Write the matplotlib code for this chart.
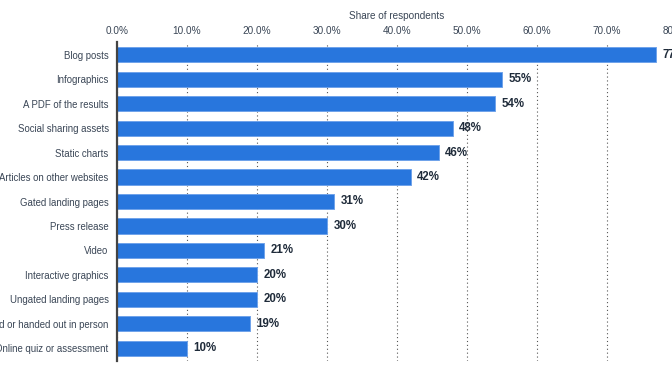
import matplotlib
matplotlib.use('Agg')
import matplotlib.pyplot as plt
import numpy as np

plt.rcParams['font.family'] = ['Liberation Sans', 'DejaVu Sans']

categories = ['Blog posts', 'Infographics', 'A PDF of the results', 'Social sharing assets',
              'Static charts', 'Articles on other websites', 'Gated landing pages',
              'Press release', 'Video', 'Interactive graphics', 'Ungated landing pages',
              'Printed or handed out in person', 'Online quiz or assessment']
values = [77, 55, 54, 48, 46, 42, 31, 30, 21, 20, 20, 19, 10]
ticks = [0, 10, 20, 30, 40, 50, 60, 70, 80]

fig = plt.figure(figsize=(6.72, 3.72), dpi=100)
ax = fig.add_axes([117 / 672, 1 - 360.5 / 372, 560 / 672, (360.5 - 42.5) / 372])

y = np.arange(len(categories))
ax.barh(y, values, height=0.62, color='#2876dd', edgecolor='#6fa3ea', linewidth=0.7, zorder=3)
for yi, v in zip(y, values):
    ax.text(v + 0.9, yi, f'{v}%', va='center', ha='left', fontsize=8.3,
            fontweight='bold', color='#1f2b3a', zorder=4)

ax.set_ylim(len(categories) - 0.5, -0.5)
ax.set_xlim(0, 80)
ax.set_yticks(y)
ax.set_yticklabels(categories, fontsize=6.9, color='#3a4656')
ax.set_xticks(ticks)
ax.set_xticklabels([f'{t:.1f}%' for t in ticks], fontsize=7.2, color='#3a4656')
ax.xaxis.tick_top()
ax.xaxis.set_label_position('top')
ax.set_xlabel('Share of respondents', fontsize=7.2, color='#3a4656', labelpad=5)
ax.tick_params(axis='y', length=0, pad=6)
ax.tick_params(axis='x', length=0, pad=5)
ax.grid(axis='x', linestyle=(0, (1, 2.5)), color='#555555', linewidth=0.8, zorder=0)
for s in ['top', 'right', 'bottom']:
    ax.spines[s].set_visible(False)
ax.spines['left'].set_color('#444444')
ax.spines['left'].set_linewidth(1.6)
ax.spines['left'].set_zorder(5)

fig.savefig('out.png', dpi=100)
